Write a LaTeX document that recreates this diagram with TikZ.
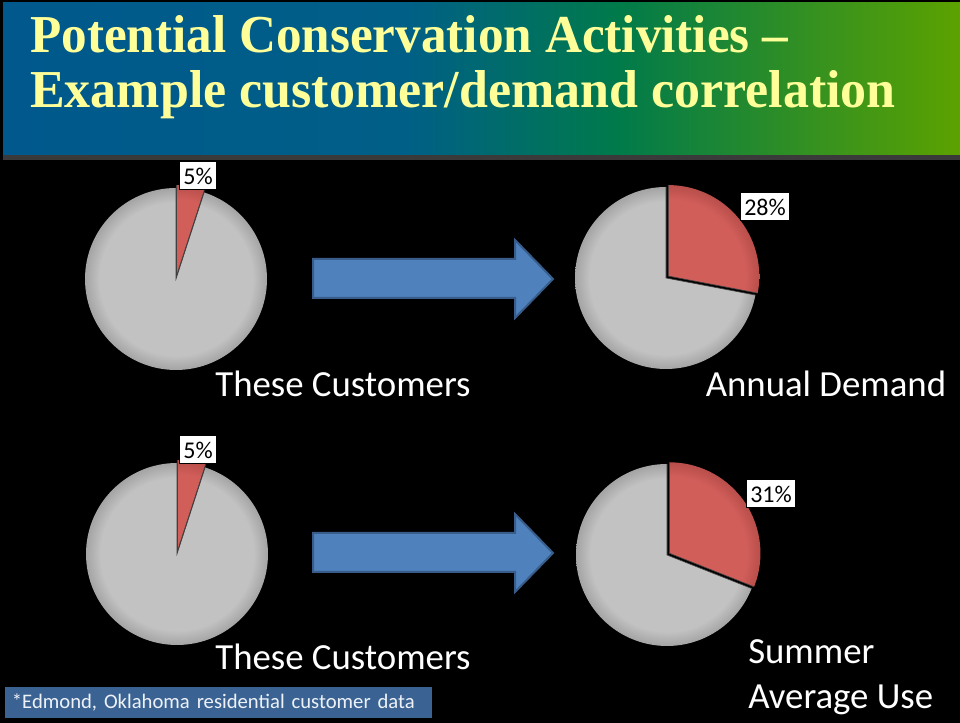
\documentclass[tikz,border=0pt]{standalone}
\usepackage{fontspec}
\setmainfont{Carlito}
\newfontfamily\titlefont{Liberation Serif}
\usetikzlibrary{calc}
\definecolor{titleyellow}{HTML}{FFFF99}
\definecolor{bA}{RGB}{0,88,140}
\definecolor{bB}{RGB}{0,95,135}
\definecolor{bC}{RGB}{0,122,75}
\definecolor{bD}{RGB}{92,162,0}
\definecolor{bannerline}{HTML}{3A3A3A}
\definecolor{pieIn}{HTML}{C2C2C2}
\definecolor{pieOut}{HTML}{A4A4A4}
\definecolor{redIn}{HTML}{D25E5A}
\definecolor{redOut}{HTML}{B84E4A}
\definecolor{arrowfill}{HTML}{4F81BD}
\definecolor{arrowedge}{HTML}{385D8A}
\definecolor{footblue}{HTML}{3A6393}
\definecolor{foottext}{HTML}{EEF2F8}
\pgfdeclarehorizontalshading{bannershade}{100bp}{color(0bp)=(bA); color(25bp)=(bA); color(46bp)=(bB); color(57bp)=(bC); color(75bp)=(bD); color(100bp)=(bD)}
\pgfdeclareradialshading{pieshade}{\pgfpoint{0bp}{0bp}}{color(0bp)=(pieIn); color(21bp)=(pieIn); color(25bp)=(pieOut); color(50bp)=(pieOut)}
\pgfdeclareradialshading{redshade}{\pgfpoint{0bp}{0bp}}{color(0bp)=(redIn); color(21bp)=(redIn); color(25bp)=(redOut); color(50bp)=(redOut)}
\tikzset{
  titletext/.style={font=\titlefont\bfseries\fontsize{40}{40}\selectfont, text=titleyellow, inner sep=0pt, anchor=base west},
  lbl/.style={font=\fontsize{27.6}{33.75}\selectfont, text=white, inner sep=0pt},
  pctbox/.style={fill=white, draw=black, line width=0.75pt, font=\fontsize{18}{18}\selectfont, text=black, inner xsep=3pt, minimum height=21pt},
  pieedge/.style={draw=black!75, line width=0.5pt},
  blockarrow/.style={fill=arrowfill, draw=arrowedge, line width=1.5pt, line join=miter},
  footbox/.style={fill=footblue, text=foottext, font=\fontsize{15.5}{18}\selectfont, anchor=south west, minimum height=23.25pt, text width=310pt, inner xsep=5pt, align=left}
}
\newcommand\drawpie[3]{%
  \coordinate (#1r) at ($(#1)+(#3:3)$);
  \begin{scope}
    \clip (#1) -- ++(90:91) arc[start angle=90, end angle=#2+360, radius=91] -- cycle;
    \shade[shading=pieshade] (#1) circle[radius=91];
  \end{scope}
  \draw[pieedge] ($(#1)+(90:91)$) -- (#1) -- ++(#2:91);
  \begin{scope}
    \clip (#1r) -- ++(#2:91) arc[start angle=#2, end angle=90, radius=91] -- cycle;
    \shade[shading=redshade] (#1r) circle[radius=91];
  \end{scope}
  \draw[pieedge] ($(#1r)+(90:91)$) -- (#1r) -- ++(#2:91);
}
\begin{document}
\begin{tikzpicture}[x=0.75pt,y=0.75pt]
\fill[black] (0,0) rectangle (960,723);
\useasboundingbox (0,0) rectangle (960,723);
% banner
\shade[shading=bannershade] (3,568) rectangle (960,720);
\fill[bannerline] (3,563) rectangle (960,568);
\node[titletext] (t1) at (30,670) {\scalebox{0.96}[1]{Potential Conservation Activities –}};
\node[titletext] (t2) at (30,615) {\scalebox{0.975}[1]{Example customer/demand correlation}};
% pie centres
\coordinate (p1) at (176,444);
\coordinate (p2) at (666,445);
\coordinate (p3) at (177,169);
\coordinate (p4) at (667,168);
\drawpie{p1}{72}{81}
\drawpie{p2}{-10.8}{39.6}
\drawpie{p3}{72}{81}
\drawpie{p4}{-21.6}{34.2}
% percentage labels
\node[pctbox] (l1) at (198,547) {5\%};
\node[pctbox] (l2) at (765,516) {28\%};
\node[pctbox] (l3) at (198,273) {5\%};
\node[pctbox] (l4) at (771,229) {31\%};
% arrows
\draw[blockarrow] (313,464) -- (515,464) -- (515,483) -- (553,444) -- (515,405) -- (515,425) -- (313,425) -- cycle;
\draw[blockarrow] (313,190) -- (515,190) -- (515,209) -- (553,170) -- (515,131) -- (515,151) -- (313,151) -- cycle;
% captions
\node[lbl] (c1) at (343,339) {These Customers};
\node[lbl] (d1) at (826,339) {Annual Demand};
\node[lbl] (c2) at (343,66) {These Customers};
\node[lbl, anchor=west, align=left] (d2) at (748,46) {Summer\\Average Use};
% footnote
\node[footbox] (fn) at (5,5) {*Edmond, Oklahoma residential customer data};
\end{tikzpicture}
\end{document}
